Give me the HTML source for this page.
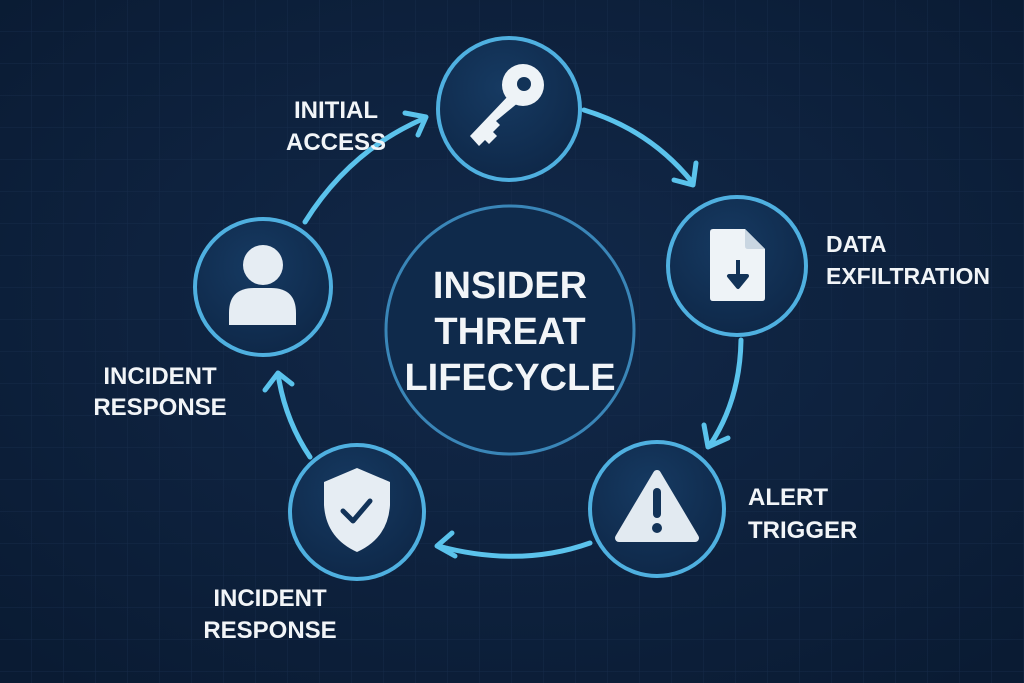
<!DOCTYPE html>
<html><head><meta charset="utf-8"><style>
html,body{margin:0;padding:0;width:1024px;height:683px;overflow:hidden;background:#0d213d;}
svg{display:block}
text{font-family:"Liberation Sans",sans-serif;font-weight:bold;fill:#f2f5f8;}
</style></head><body>
<svg width="1024" height="683" viewBox="0 0 1024 683">
<defs>
<pattern id="g" width="32" height="32" patternUnits="userSpaceOnUse">
<path d="M32 0V32M0 32H32" stroke="#1a3050" stroke-width="1" fill="none"/>
</pattern>
<radialGradient id="bg" cx="50%" cy="45%" r="70%">
<stop offset="0" stop-color="#12294a"/><stop offset="1" stop-color="#0a1b33"/>
</radialGradient>
<radialGradient id="nd" cx="45%" cy="35%" r="70%">
<stop offset="0" stop-color="#163a62"/><stop offset="1" stop-color="#0e2747"/>
</radialGradient>
</defs>
<rect width="1024" height="683" fill="url(#bg)"/>
<rect width="1024" height="683" fill="url(#g)" opacity="0.7"/>

<g stroke="#5bc3ec" stroke-width="5" fill="none" stroke-linecap="round" stroke-linejoin="round">
<path d="M584 110 Q650 130 692 182"/><path d="M674 180 L693 185 L696 163"/>
<path d="M741 340 Q740 400 710 445"/><path d="M704 425 L708 447 L728 438"/>
<path d="M590 543 Q520 568 438 546"/><path d="M452 533 L437 546 L455 556"/>
<path d="M310 457 Q285 420 278 374"/><path d="M265 390 L278 373 L292 384"/>
<path d="M305 222 Q350 150 425 118"/><path d="M405 113 L426 117 L418 135"/>
</g>

<circle cx="510" cy="330" r="124" fill="#0f2a4b" stroke="#3a86b8" stroke-width="3"/>
<text x="510" y="298" font-size="38" text-anchor="middle">INSIDER</text>
<text x="510" y="344" font-size="38" text-anchor="middle">THREAT</text>
<text x="510" y="390" font-size="38" text-anchor="middle">LIFECYCLE</text>

<g fill="url(#nd)" stroke="#4fb0e0" stroke-width="4">
<circle cx="509" cy="109" r="71"/>
<circle cx="737" cy="266" r="69"/>
<circle cx="657" cy="509" r="67"/>
<circle cx="357" cy="512" r="67"/>
<circle cx="263" cy="287" r="68"/>
</g>

<g fill="#eef3f7">
<circle cx="523" cy="85" r="21"/>
<path d="M509 95 L470 136 L479 146 L485 140 L489 144 L497 136 L493 132 L500 125 L496 121 L519 102 Z"/>
</g>
<circle cx="524" cy="84" r="7" fill="#123358"/>
<path d="M713 229 h32 l20 20 v49 q0 3 -3 3 h-49 q-3 0 -3 -3 v-66 q0 -3 3 -3 z" fill="#eef3f7"/>
<path d="M745 229 v17 q0 3 3 3 h17" fill="#c9d6e2"/>
<path d="M738 260 v16 h9 l-9 11 l-9 -11 h9" fill="#123358" stroke="#123358" stroke-width="4" stroke-linejoin="round"/>
<path d="M657 474 L695 538 H619 Z" fill="#e2eaf1" stroke="#e2eaf1" stroke-width="8" stroke-linejoin="round"/>
<rect x="653" y="488" width="8" height="30" rx="4" fill="#123358"/>
<circle cx="657" cy="528" r="5" fill="#123358"/>
<path d="M357 468 L390 482 V505 Q388 538 357 552 Q326 538 324 505 V482 Z" fill="#e6edf3"/>
<path d="M343 511 l10 10 17-20" stroke="#123358" stroke-width="5" fill="none" stroke-linecap="round" stroke-linejoin="round"/>
<circle cx="263" cy="265" r="20" fill="#e6edf3"/>
<path d="M229 325 v-12 q0-25 25-25 h17 q25 0 25 25 v12 z" fill="#e6edf3"/>

<text x="336" y="118" font-size="24" text-anchor="middle">INITIAL</text>
<text x="336" y="150" font-size="24" text-anchor="middle">ACCESS</text>
<text x="826" y="252" font-size="23">DATA</text>
<text x="826" y="284" font-size="23">EXFILTRATION</text>
<text x="748" y="505" font-size="24">ALERT</text>
<text x="748" y="538" font-size="24">TRIGGER</text>
<text x="160" y="384" font-size="24" text-anchor="middle">INCIDENT</text>
<text x="160" y="415" font-size="24" text-anchor="middle">RESPONSE</text>
<text x="270" y="606" font-size="24" text-anchor="middle">INCIDENT</text>
<text x="270" y="638" font-size="24" text-anchor="middle">RESPONSE</text>
</svg>
</body></html>
